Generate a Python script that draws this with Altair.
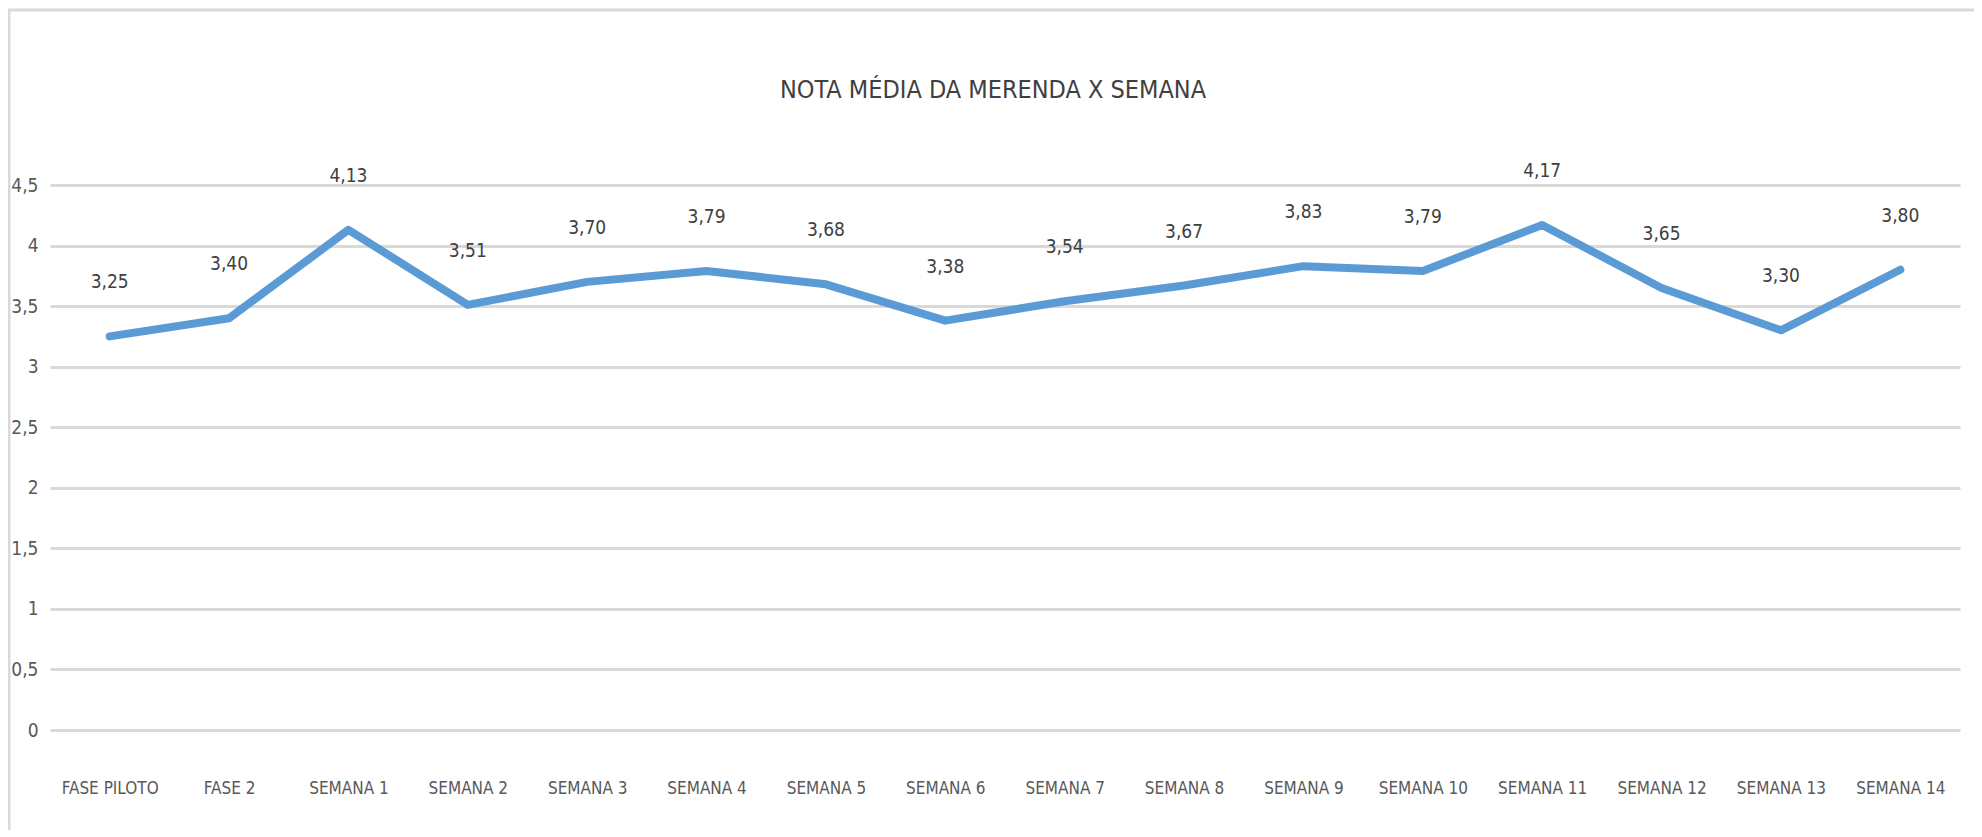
import altair as alt
import pandas as pd

title_text = "NOTA MÉDIA DA MERENDA X SEMANA"
categories = ["FASE PILOTO", "FASE 2", "SEMANA 1", "SEMANA 2", "SEMANA 3", "SEMANA 4",
              "SEMANA 5", "SEMANA 6", "SEMANA 7", "SEMANA 8", "SEMANA 9", "SEMANA 10",
              "SEMANA 11", "SEMANA 12", "SEMANA 13", "SEMANA 14"]
values = [3.25, 3.40, 4.13, 3.51, 3.70, 3.79, 3.68, 3.38, 3.54, 3.67, 3.83, 3.79,
          4.17, 3.65, 3.30, 3.80]
y_ticks = [0, 0.5, 1, 1.5, 2, 2.5, 3, 3.5, 4, 4.5]

df = pd.DataFrame({"semana": categories, "nota": values})

FONT = "DejaVu Sans Condensed, Liberation Sans Narrow, Roboto Condensed, Liberation Sans, sans-serif"
GREY = "#595959"

x_enc = alt.X("semana:N", sort=categories, title=None,
              scale=alt.Scale(paddingInner=0, paddingOuter=0),
              axis=alt.Axis(domain=False, ticks=False, labelAngle=0, labelPadding=50,
                            labelFont=FONT, labelFontSize=17, labelColor=GREY,
                            grid=False))
y_enc = alt.Y("nota:Q", title=None,
              scale=alt.Scale(domain=[0, 4.5], nice=False),
              axis=alt.Axis(values=y_ticks, domain=False, ticks=False, labelPadding=12,
                            format="~g",
                            labelFont=FONT, labelFontSize=19, labelColor=GREY,
                            labelExpr="replace(datum.label, '.', ',')",
                            grid=True, gridColor="#D9D9D9", gridWidth=3))

line = alt.Chart(df).mark_line(color="#5B9BD5", strokeWidth=8, strokeCap="round",
                               strokeJoin="round").encode(x=x_enc, y=y_enc)

labels = alt.Chart(df).transform_calculate(
    lab="replace(format(datum.nota, '.2f'), '.', ',')"
).mark_text(font=FONT, fontSize=19, color="#404040", baseline="bottom", dy=-44).encode(
    x=alt.X("semana:N", sort=categories),
    y=alt.Y("nota:Q"),
    text="lab:N")

frame = alt.Chart(alt.Data(values=[{"a": 1}])).mark_rect(
    fill=None, fillOpacity=0, stroke="#D9D9D9", strokeWidth=3).encode(
    x=alt.value(-41), x2=alt.value(1927), y=alt.value(-175), y2=alt.value(662))

title = alt.Chart(alt.Data(values=[{"t": title_text}])).mark_text(
    font=FONT, fontSize=25, color="#404040", align="center", baseline="middle").encode(
    text="t:N", x=alt.value(943), y=alt.value(-95))

chart = alt.layer(frame, line, labels, title).properties(
    width=1910, height=545,
    autosize=alt.AutoSizeParams(type="none"),
    padding={"left": 42, "top": 177, "right": 14, "bottom": 100},
    background="white"
).configure_view(stroke=None)

chart.save("out.html", embed_options={"renderer": "svg", "actions": False})
